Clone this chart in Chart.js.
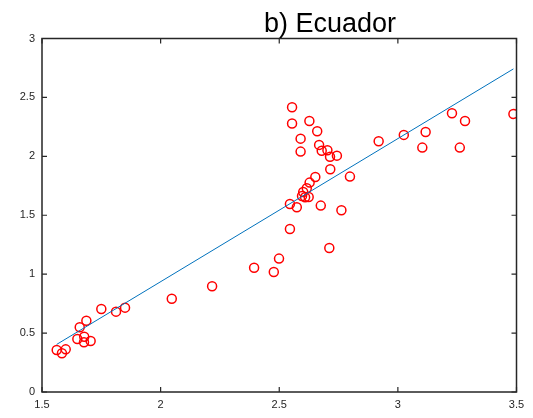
<!DOCTYPE html>
<html>
<head>
<meta charset="utf-8">
<script src="https://cdn.jsdelivr.net/npm/chart.js"></script>
<style>
  html, body { margin: 0; padding: 0; background: #fff; }
  #wrap { width: 533px; height: 418px; }
</style>
</head>
<body>
<div id="wrap"><canvas id="ecuadorChart" width="533" height="418"></canvas></div>
<script>
// observed points (x, y)
const obsX = [1.562, 1.584, 1.600, 1.659, 1.687, 1.649, 1.678, 1.677, 1.705, 1.750,
  1.812, 1.850, 2.047, 2.217, 2.394, 2.477, 2.499, 2.711, 2.554, 2.554,
  2.627, 2.660, 2.590, 2.590, 2.668, 2.679, 2.703, 2.714, 2.743, 2.715,
  2.798, 2.652, 2.628, 2.616, 2.601, 2.596, 2.609, 2.624, 2.545, 2.574,
  2.675, 2.762, 2.545, 2.919, 3.025, 3.117, 3.103, 3.228, 3.283, 3.261, 3.487];
const obsY = [0.357, 0.329, 0.362, 0.549, 0.605, 0.450, 0.469, 0.422, 0.433, 0.705,
  0.682, 0.716, 0.792, 0.897, 1.055, 1.019, 1.132, 1.222, 2.417, 2.278,
  2.300, 2.213, 2.150, 2.040, 2.097, 2.048, 2.052, 1.997, 2.006, 1.890,
  1.828, 1.825, 1.777, 1.729, 1.698, 1.664, 1.653, 1.655, 1.596, 1.568,
  1.582, 1.542, 1.384, 2.128, 2.182, 2.207, 2.074, 2.366, 2.300, 2.074, 2.360];

// fitted line end points
const fitX = [1.562, 3.487];
const fitY = [0.404, 2.742];

const xTicks = [1.5, 2, 2.5, 3, 3.5];
const yTicks = [0, 0.5, 1, 1.5, 2, 2.5, 3];
const titleText = 'b) Ecuador';

const axisColor = '#262626';

// box around the plot with inward ticks, like the original
const boxPlugin = {
  id: 'box',
  afterDraw(chart) {
    const { ctx, chartArea: a, scales } = chart;
    ctx.save();
    ctx.strokeStyle = axisColor;
    ctx.lineWidth = 1.5;
    ctx.strokeRect(a.left, a.top, a.right - a.left, a.bottom - a.top);
    ctx.lineWidth = 1.2;
    const len = 5;
    ctx.beginPath();
    xTicks.forEach(v => {
      const px = scales.x.getPixelForValue(v);
      ctx.moveTo(px, a.bottom); ctx.lineTo(px, a.bottom - len);
      ctx.moveTo(px, a.top); ctx.lineTo(px, a.top + len);
    });
    yTicks.forEach(v => {
      const py = scales.y.getPixelForValue(v);
      ctx.moveTo(a.left, py); ctx.lineTo(a.left + len, py);
      ctx.moveTo(a.right, py); ctx.lineTo(a.right - len, py);
    });
    ctx.stroke();
    // title
    ctx.fillStyle = '#000';
    ctx.font = '27px "Liberation Sans", Arial, sans-serif';
    ctx.textAlign = 'center';
    ctx.textBaseline = 'alphabetic';
    ctx.fillText(titleText, 330, 32);
    ctx.restore();
  }
};

document.addEventListener('DOMContentLoaded', () => {
  const ctx = document.getElementById('ecuadorChart').getContext('2d');

  new Chart(ctx, {
    type: 'scatter',
    data: {
      datasets: [
        {
          label: 'fit',
          type: 'line',
          data: fitX.map((x, i) => ({ x: x, y: fitY[i] })),
          borderColor: '#0072BD',
          borderWidth: 1,
          pointRadius: 0,
          fill: false,
        },
        {
          label: 'data',
          data: obsX.map((x, i) => ({ x: x, y: obsY[i] })),
          borderColor: '#ff0000',
          backgroundColor: 'rgba(0,0,0,0)',
          borderWidth: 1.5,
          pointRadius: 4.5,
        }
      ]
    },
    options: {
      responsive: false,
      animation: false,
      layout: { padding: { top: 38.5, right: 16.5, left: 0, bottom: 0 } },
      plugins: {
        legend: { display: false },
        tooltip: { enabled: false },
      },
      scales: {
        x: {
          type: 'linear',
          min: 1.5,
          max: 3.5,
          afterBuildTicks: s => { s.ticks = xTicks.map(v => ({ value: v })); },
          afterFit: s => { s.height = 26; },
          grid: { display: false, drawTicks: false },
          border: { display: false },
          ticks: {
            padding: 6,
            color: axisColor,
            callback: v => String(v),
            font: { family: '"Liberation Sans", Arial, sans-serif', size: 11 },
            maxRotation: 0,
          },
        },
        y: {
          min: 0,
          max: 3,
          afterBuildTicks: s => { s.ticks = yTicks.map(v => ({ value: v })); },
          afterFit: s => { s.width = 42; },
          grid: { display: false, drawTicks: false },
          border: { display: false },
          ticks: {
            padding: 7,
            color: axisColor,
            callback: v => String(v),
            font: { family: '"Liberation Sans", Arial, sans-serif', size: 11 },
          },
        },
      },
    },
    plugins: [boxPlugin],
  });
});
</script>
</body>
</html>
